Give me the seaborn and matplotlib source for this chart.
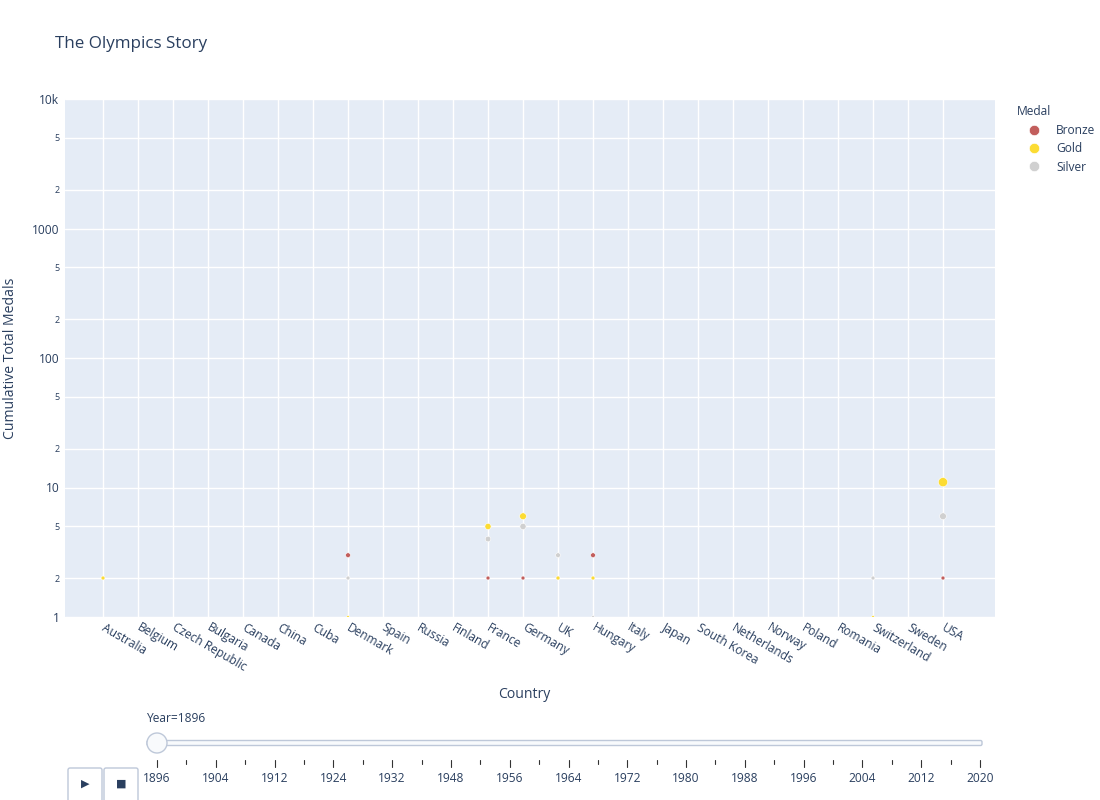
import numpy as np
import pandas as pd
import matplotlib
matplotlib.use("Agg")
import matplotlib.pyplot as plt
import matplotlib.ticker as mticker
from matplotlib.patches import FancyBboxPatch, Circle
from matplotlib.lines import Line2D
import seaborn as sns

# ---------------- data ----------------
countries = ["Australia", "Belgium", "Czech Republic", "Bulgaria", "Canada", "China", "Cuba",
             "Denmark", "Spain", "Russia", "Finland", "France", "Germany", "UK", "Hungary",
             "Italy", "Japan", "South Korea", "Netherlands", "Norway", "Poland", "Romania",
             "Switzerland", "Sweden", "USA"]
medal_types = ["Bronze", "Gold", "Silver"]
point_country = ["Australia", "Denmark", "Denmark", "Denmark", "France", "France", "France",
                 "Germany", "Germany", "Germany", "UK", "UK", "UK", "Hungary", "Hungary", "Hungary",
                 "Switzerland", "Switzerland", "USA", "USA", "USA"]
point_medal = ["Gold", "Bronze", "Gold", "Silver", "Bronze", "Gold", "Silver",
               "Bronze", "Gold", "Silver", "Bronze", "Gold", "Silver", "Bronze", "Gold", "Silver",
               "Gold", "Silver", "Bronze", "Gold", "Silver"]
point_total = [2, 3, 1, 2, 2, 5, 4,
               2, 6, 5, 2, 2, 3, 3, 2, 1,
               1, 2, 2, 11, 6]
years = [1896, 1900, 1904, 1908, 1912, 1920, 1924, 1928, 1932, 1936, 1948, 1952, 1956, 1960,
         1964, 1968, 1972, 1976, 1980, 1984, 1988, 1992, 1996, 2000, 2004, 2008, 2012, 2016, 2020]
current_year = 1896

palette = {"Bronze": "#c25e5c", "Gold": "#fcdc33", "Silver": "#d0d0d0"}
text_col = "#2a3f5f"

df = pd.DataFrame({"Country": point_country, "Medal": point_medal, "Total": point_total})
df["Country"] = pd.Categorical(df["Country"], categories=countries)
df["Medal"] = pd.Categorical(df["Medal"], categories=medal_types)
df = df.sort_values("Medal").reset_index(drop=True)
df["xpos"] = df["Country"].cat.codes

# ---------------- figure ----------------
sns.set_theme(style="darkgrid")
plt.rcParams["font.family"] = ["Open Sans", "DejaVu Sans"]
PX = 0.72  # points per pixel at dpi 100

fig = plt.figure(figsize=(11, 8), dpi=100)
fig.patch.set_facecolor("white")
W, H = 1100, 800
ax = fig.add_axes([65 / W, (H - 617) / H, 930 / W, 518 / H])
ax.set_facecolor("#e5ecf6")

sns.scatterplot(data=df, x="xpos", y="Total", hue="Medal", palette=palette,
                size="Total", sizes=(4, 44), size_norm=(1, 11),
                edgecolor="white", linewidth=0.4, legend=False, ax=ax, zorder=3)

ax.set_yscale("log")
ax.set_ylim(1, 10000)
ax.set_xlim(-1.086, 25.486)

# y ticks
major = [1, 10, 100, 1000, 10000]
major_lbl = ["1", "10", "100", "1000", "10k"]
minor = [v * m for v in [1, 10, 100, 1000] for m in (2, 5)]
ax.yaxis.set_major_locator(mticker.FixedLocator(major))
ax.yaxis.set_major_formatter(mticker.FixedFormatter(major_lbl))
ax.yaxis.set_minor_locator(mticker.FixedLocator(minor))
ax.yaxis.set_minor_formatter(mticker.FixedFormatter([str(m) for m in [2, 5] * 4]))
ax.tick_params(axis="y", which="major", labelsize=12 * PX, labelcolor=text_col, length=0, pad=4)
ax.tick_params(axis="y", which="minor", labelsize=9 * PX, labelcolor=text_col, length=0, pad=4)

# x ticks
ax.set_xticks(range(len(countries)))
ax.set_xticklabels(countries, rotation=-30, ha="left", va="center", rotation_mode="anchor")
ax.tick_params(axis="x", labelsize=12 * PX, labelcolor=text_col, length=0, pad=7)

ax.grid(True, which="both", color="white", linewidth=1.0)
ax.set_axisbelow(True)
for s in ax.spines.values():
    s.set_visible(False)

ax.set_xlabel("")
ax.set_ylabel("")
fig.text(524 / W, 1 - 694 / H, "Country", fontsize=14 * PX, color=text_col, ha="center", va="center")
fig.text(11 / W, 1 - 358 / H, "Cumulative Total Medals", fontsize=14 * PX, color=text_col,
         ha="center", va="center", rotation=90)

fig.text(55 / W, 1 - 44 / H, "The Olympics Story", fontsize=17 * PX, color=text_col, va="center")

# legend
handles = [Line2D([0], [0], marker="o", linestyle="", markersize=7.5,
                  markerfacecolor=palette[m], markeredgecolor="white", markeredgewidth=0.5)
           for m in medal_types]
leg = fig.legend(handles, medal_types, loc="upper left", bbox_to_anchor=(1014 / W, 1 - 103 / H),
                 frameon=False, title="Medal", alignment="left", fontsize=12 * PX,
                 title_fontsize=12 * PX, handletextpad=0.3, labelspacing=0.45, borderpad=0.2,
                 borderaxespad=0, handlelength=3.0)
leg.get_title().set_color(text_col)
for t in leg.get_texts():
    t.set_color(text_col)

# ---------------- slider & buttons (decoration) ----------------
ov = fig.add_axes([0, 0, 1, 1], facecolor="none")
ov.set_xlim(0, W)
ov.set_ylim(H, 0)
ov.axis("off")

border = "#bec8d9"
rail_x0, rail_x1 = 147, 982
ov.add_patch(FancyBboxPatch((rail_x0, 740.5), rail_x1 - rail_x0, 5,
                            boxstyle="round,pad=0,rounding_size=1.5",
                            facecolor="#f8fafc", edgecolor=border, linewidth=1))
t0, t1 = 157, 980
step = (t1 - t0) / (len(years) - 1)
for i, yr in enumerate(years):
    x = t0 + i * step
    if i % 2 == 0:
        ov.plot([x, x], [760, 767], color="#333333", linewidth=0.8)
        ov.text(x, 778, str(yr), ha="center", va="center", fontsize=12 * PX, color=text_col)
    else:
        ov.plot([x, x], [760, 764], color="#333333", linewidth=0.8)
ov.add_patch(Circle((t0, 743), 10, facecolor="#f8fafc", edgecolor=border, linewidth=1, zorder=5))
ov.text(147, 718, f"Year={current_year}", ha="left", va="center", fontsize=12 * PX, color=text_col)

for bx, sym in [(68, "▶"), (104, "■")]:
    ov.add_patch(FancyBboxPatch((bx, 768), 34, 40, boxstyle="round,pad=0,rounding_size=2",
                                facecolor="white", edgecolor=border, linewidth=1))
    ov.text(bx + 17, 784, sym, ha="center", va="center", fontsize=8, color=text_col,
            family=["DejaVu Sans"])

fig.savefig("out.png", dpi=100, facecolor="white")
